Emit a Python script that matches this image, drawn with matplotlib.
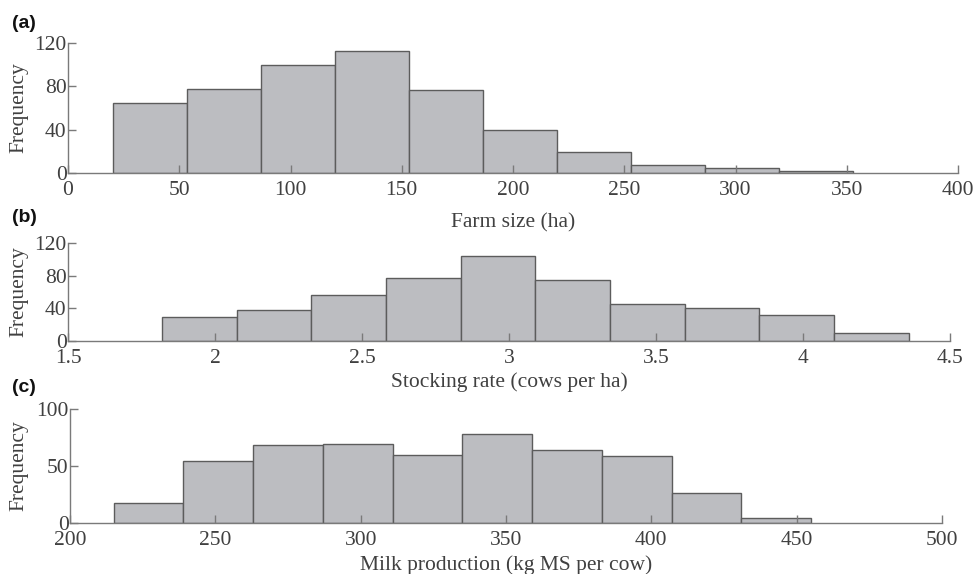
import matplotlib.pyplot as plt

# bin edges and counts
farm_edges = [20, 53.3, 86.6, 119.9, 153.2, 186.5, 219.8, 253.1, 286.4, 319.7, 353]
farm_counts = [65, 78, 100, 113, 77, 40, 19, 7, 5, 1.5]

stock_edges = [1.82, 2.074, 2.328, 2.582, 2.836, 3.09, 3.344, 3.598, 3.852, 4.106, 4.36]
stock_counts = [30, 38, 56, 77, 104, 75, 45, 40, 32, 10]

milk_edges = [215, 239, 263, 287, 311, 335, 359, 383, 407, 431, 455]
milk_counts = [17.5, 54, 68, 69, 60, 78, 64, 59, 26, 4.5]

W, H = 976, 574
FILL = "#bcbdc1"
EDGE = "#5c5c5c"
SPINE = "#7a7a7a"
TEXT = "#404040"

plt.rcParams["font.family"] = ["Liberation Serif", "DejaVu Serif"]
plt.rcParams["font.size"] = 15.5

fig = plt.figure(figsize=(W / 100, H / 100), dpi=100)

panels = [
    # label, edges, counts, xlim, xticks, ylim, yticks, xlabel, (left, right, top, bottom) px, label y, xlabel pad
    ("(a)", farm_edges, farm_counts, (0, 400), [0, 50, 100, 150, 200, 250, 300, 350, 400],
     (0, 120), [0, 40, 80, 120], "Farm size (ha)", (68, 958, 43, 173), 24, 9),
    ("(b)", stock_edges, stock_counts, (1.5, 4.5), [1.5, 2, 2.5, 3, 3.5, 4, 4.5],
     (0, 120), [0, 40, 80, 120], "Stocking rate (cows per ha)", (68, 950, 243, 341), 217, 3),
    ("(c)", milk_edges, milk_counts, (200, 500), [200, 250, 300, 350, 400, 450, 500],
     (0, 100), [0, 50, 100], "Milk production (kg MS per cow)", (70, 942, 409, 523), 388, 3.5),
]

for label, edges, counts, xlim, xticks, ylim, yticks, xlabel, box, label_y, xpad in panels:
    left, right, top, bottom = box
    ax = fig.add_axes([left / W, 1 - bottom / H, (right - left) / W, (bottom - top) / H])
    widths = [edges[i + 1] - edges[i] for i in range(len(counts))]
    ax.bar(edges[:-1], counts, width=widths, align="edge",
           color=FILL, edgecolor=EDGE, linewidth=1.0, zorder=1)
    ax.set_xlim(*xlim)
    ax.set_ylim(*ylim)
    ax.set_xticks(xticks)
    ax.set_xticklabels([f"{t:g}" for t in xticks])
    ax.set_yticks(yticks)
    for side in ["top", "right"]:
        ax.spines[side].set_visible(False)
    for side in ["left", "bottom"]:
        ax.spines[side].set_color(SPINE)
        ax.spines[side].set_linewidth(1.0)
        ax.spines[side].set_zorder(3)
    ax.tick_params(axis="x", direction="in", length=6, width=1, color=SPINE,
                   labelcolor=TEXT, pad=6)
    ax.tick_params(axis="y", direction="in", length=6, width=1, color=SPINE,
                   labelcolor=TEXT, pad=1)
    ax.set_xlabel(xlabel, color=TEXT, labelpad=xpad)
    ax.set_ylabel("Frequency", color=TEXT)
    ax.yaxis.set_label_coords((28 - left) / (right - left), 0.5)
    ax.set_facecolor("none")
    fig.text(12 / W, 1 - label_y / H, label, ha="left", va="center",
             fontsize=14, fontweight="bold", family=["Liberation Sans", "DejaVu Sans"],
             color="#111111")

fig.savefig("out.png", dpi=100)
